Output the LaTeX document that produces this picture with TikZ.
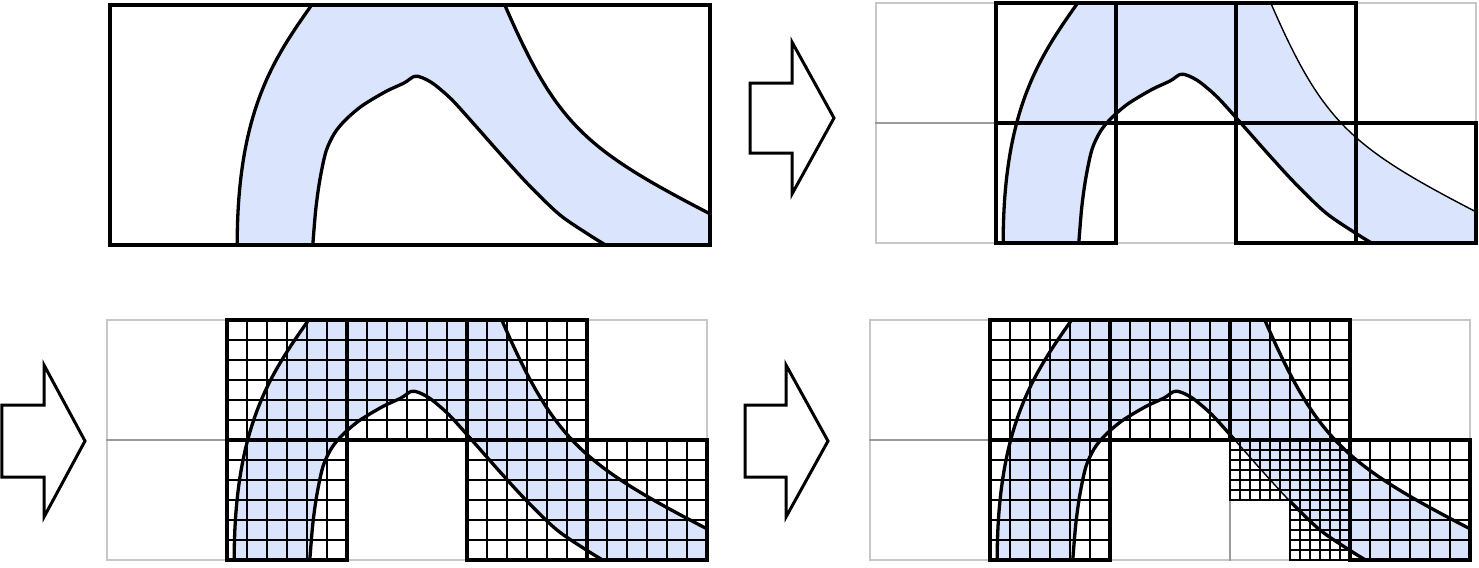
\documentclass[tikz,border=0pt]{standalone}
\definecolor{fillblue}{RGB}{218,228,252}
\tikzset{
  thickline/.style={line width=0.33mm, black},
  medline/.style={line width=0.22mm, black},
  thincurve/.style={line width=0.14mm, black},
  fineline/.style={line width=0.11mm, black},
  greycell/.style={line width=0.13mm, draw=black, draw opacity=0.22},
  curve/.style={line width=0.33mm, black, line join=round},
  blockarrow/.style={line width=0.3mm, draw=black, fill=white},
}
\newcommand\regionfill{%
  \fill[fillblue] (1.06,0) .. controls (1.06,1.118) and (1.37,1.559) .. (1.68,2)
   -- (3.29,2) .. controls (3.722,1.006) and (3.954,0.801) .. (5,0.26)
   -- (5,0)
   -- plot[smooth] coordinates {(4.13,0) (4.0,0.08) (3.75,0.25) (3.50,0.49) (3.27,0.74) (3.04,1.0) (2.85,1.21) (2.7,1.34) (2.6,1.395) (2.535,1.405) (2.45,1.35) (2.3,1.28) (2.1,1.16) (1.96,1.04) (1.87,0.93) (1.80,0.78) (1.75,0.55) (1.715,0.3) (1.69,0)}
   -- cycle;}
\newcommand\drawL[1]{\draw[#1] (1.06,0) .. controls (1.06,1.118) and (1.37,1.559) .. (1.68,2);}
\newcommand\drawR[1]{\draw[#1] (3.29,2) .. controls (3.722,1.006) and (3.954,0.801) .. (5,0.26);}
\newcommand\drawI[1]{\draw[#1] plot[smooth] coordinates {(1.69,0) (1.715,0.3) (1.75,0.55) (1.80,0.78) (1.87,0.93) (1.96,1.04) (2.1,1.16) (2.3,1.28) (2.45,1.35) (2.535,1.405) (2.6,1.395) (2.7,1.34) (2.85,1.21) (3.04,1.0) (3.27,0.74) (3.50,0.49) (3.75,0.25) (4.0,0.08) (4.13,0)};}
\newcommand\greygrid{\foreach \c in {0,...,4}{\foreach \r in {0,1}{\draw[greycell] (\c,\r) rectangle ++(1,1);}}}
\newcommand\finegrid[3]{%
  \foreach \k in {1,...,5}{%
    \draw[fineline] ({#1+\k*#3/6},#2) -- ++(0,#3);
    \draw[fineline] (#1,{#2+\k*#3/6}) -- ++(#3,0);}}
\begin{document}
\begin{tikzpicture}[x=0.1mm,y=-0.1mm]
\useasboundingbox (0,0) rectangle (1479,567);

% arrows
\draw[blockarrow] (750,83) -- (792,83) -- (792,42) -- (834,118) -- (792,194) -- (792,153) -- (750,153) -- cycle;
\draw[blockarrow] (1.8,405) -- (44,405) -- (44,365) -- (85,441) -- (44,517) -- (44,477) -- (1.8,477) -- cycle;
\draw[blockarrow] (745,405) -- (786,405) -- (786,365) -- (828,441) -- (786,517) -- (786,477) -- (745,477) -- cycle;

% panel 1
\begin{scope}[xshift=11mm,yshift=-24.5mm,x=12mm,y=12mm]
  \regionfill
  \drawL{curve}
  \drawR{curve}
  \drawI{curve}
  \draw[thickline] (0,0) rectangle (5,2);
\end{scope}

% panel 2
\begin{scope}[xshift=87.6mm,yshift=-24.3mm,x=12mm,y=12mm]
  \regionfill
  \greygrid
  \foreach \c/\r in {1/1,2/1,3/1,1/0,3/0,4/0}{\draw[thickline] (\c,\r) rectangle ++(1,1);}
  \drawL{curve}
  \drawR{thincurve}
  \drawI{curve}
\end{scope}

% panel 3
\begin{scope}[xshift=10.7mm,yshift=-56mm,x=12mm,y=12mm]
  \regionfill
  \greygrid
  \foreach \c/\r in {1/1,2/1,3/1,1/0,3/0,4/0}{\finegrid{\c}{\r}{1}}
  \foreach \c/\r in {1/1,2/1,3/1,1/0,3/0,4/0}{\draw[thickline] (\c,\r) rectangle ++(1,1);}
  \drawL{curve}
  \drawR{curve}
  \drawI{curve}
\end{scope}

% panel 4
\begin{scope}[xshift=87mm,yshift=-56mm,x=12mm,y=12mm]
  \regionfill
  \greygrid
  \foreach \c/\r in {1/1,2/1,3/1,1/0,4/0}{\finegrid{\c}{\r}{1}}
  \finegrid{3}{0.5}{0.5}
  \finegrid{3.5}{0.5}{0.5}
  \finegrid{3.5}{0}{0.5}
  \draw[medline] (3,0.5) rectangle ++(0.5,0.5);
  \draw[medline] (3.5,0.5) rectangle ++(0.5,0.5);
  \draw[medline] (3.5,0) rectangle ++(0.5,0.5);
  \foreach \c/\r in {1/1,2/1,3/1,1/0,4/0}{\draw[thickline] (\c,\r) rectangle ++(1,1);}
  \drawL{curve}
  \drawR{curve}
  \begin{scope}
    \clip (-0.1,1) rectangle (5.1,2.1) (-0.1,-0.1) rectangle (3,1) (3.5,-0.1) rectangle (5.1,1);
    \drawI{curve}
  \end{scope}
  \begin{scope}
    \clip (3,0.5) rectangle (3.5,1);
    \drawI{thincurve}
  \end{scope}
\end{scope}
\end{tikzpicture}
\end{document}
